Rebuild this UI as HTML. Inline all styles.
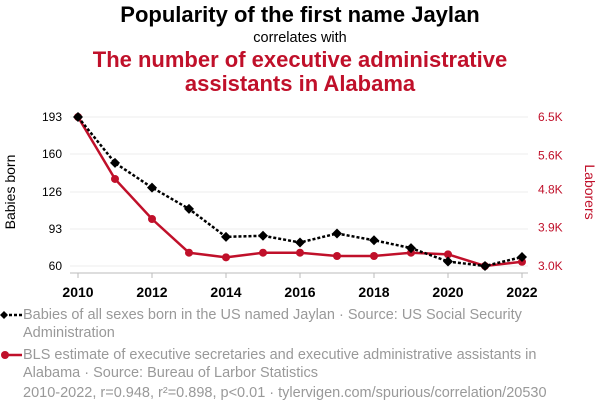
<!DOCTYPE html>
<html><head><meta charset="utf-8"><style>
body{margin:0;width:600px;height:414px;background:#fff;font-family:"Liberation Sans",sans-serif;overflow:hidden;position:relative}
.t{position:absolute;left:0;width:600px;text-align:center}
.leg{position:absolute;left:23px;color:#999;font-size:14.5px;line-height:18px;width:535px}
</style></head><body>
<div class="t" style="top:2px;font-size:22px;font-weight:bold;color:#000">Popularity of the first name Jaylan</div>
<div class="t" style="top:30px;font-size:14.5px;color:#000">correlates with</div>
<div class="t" style="top:48px;font-size:22px;font-weight:bold;color:#c0102a;line-height:24px">The number of executive administrative<br>assistants in Alabama</div>
<svg id="c" width="600" height="300" style="position:absolute;left:0;top:0"></svg>
<svg width="24" height="100" style="position:absolute;left:0;top:305px">
<line x1="4" y1="10" x2="22" y2="10" stroke="#000" stroke-width="2.5" stroke-dasharray="3,2"/><path d="M4 6 L8 10 L4 14 L0 10Z" fill="#000"/>
<line x1="4" y1="50" x2="22" y2="50" stroke="#c0102a" stroke-width="2.5"/><circle cx="5" cy="50" r="4" fill="#c0102a"/>
</svg>
<div class="leg" style="top:306px">Babies of all sexes born in the US named Jaylan · Source: US Social Security Administration</div>
<div class="leg" style="top:346px">BLS estimate of executive secretaries and executive administrative assistants in Alabama · Source: Bureau of Larbor Statistics</div>
<div class="leg" style="top:384px">2010-2022, r=0.948, r²=0.898, p&lt;0.01 · tylervigen.com/spurious/correlation/20530</div>
<script>
const years=[2010,2011,2012,2013,2014,2015,2016,2017,2018,2019,2020,2021,2022];
const babies=[193,152,130,111,86,87,81,89,83,76,64,60,68];
const laborers=[6500,5044,4104,3312,3204,3312,3312,3235,3235,3312,3274,3000,3100];
const leftTicks=[60,93,126,160,193];
const rightTicks=[3000,3900,4800,5600,6500];
const rightLabels=["3.0K","3.9K","4.8K","5.6K","6.5K"];
const xTicks=[2010,2012,2014,2016,2018,2020,2022];
const NS="http://www.w3.org/2000/svg",svg=document.getElementById('c');
const x=v=>78+(v-2010)/12*444;
const yL=v=>266-(v-60)/(193-60)*149;
const yR=v=>266-(v-3000)/(6500-3000)*149;
function mk(t,a,p){const e=document.createElementNS(NS,t);for(const k in a)e.setAttribute(k,a[k]);(p||svg).appendChild(e);return e;}
leftTicks.forEach((v,i)=>{
 const g=mk('line',{x1:70,x2:528,y1:yL(v),y2:yL(v),stroke:'#eee','stroke-width':1});
 
 
 const t=mk('text',{x:62,y:yL(v)+4,'text-anchor':'end','font-size':12,fill:'#000'});t.textContent=v;
 
 
});
rightTicks.forEach((v,i)=>{
 const t=mk('text',{x:538,y:yR(v)+4,'font-size':12,fill:'#c0102a'});t.textContent=rightLabels[i];
 
 
});
mk('line',{x1:70,x2:528,y1:273,y2:273,stroke:'#bbb'});
xTicks.forEach(v=>{
 mk('line',{x1:x(v),x2:x(v),y1:273,y2:278,stroke:'#bbb'});
 const t=mk('text',{x:x(v),y:297,'text-anchor':'middle','font-size':14,'font-weight':'bold',fill:'#000'});t.textContent=v;
 
 
});
const yt=mk('text',{x:0,y:0,transform:'translate(15,192) rotate(-90)','text-anchor':'middle','font-size':14,fill:'#000'});yt.textContent='Babies born';


const rt=mk('text',{x:0,y:0,transform:'translate(585,192) rotate(90)','text-anchor':'middle','font-size':14,fill:'#c0102a'});rt.textContent='Laborers';


const rl=mk('polyline',{points:years.map((y,i)=>x(y)+','+yR(laborers[i])).join(' '),fill:'none',stroke:'#c0102a','stroke-width':2.5});


years.forEach((y,i)=>{const c=mk('circle',{cx:x(y),cy:yR(laborers[i]),r:4,fill:'#c0102a'});
 
 });
const bl=mk('polyline',{points:years.map((y,i)=>x(y)+','+yL(babies[i])).join(' '),fill:'none',stroke:'#000','stroke-width':2.5,'stroke-dasharray':'3,2'});


years.forEach((y,i)=>{const cx=x(y),cy=yL(babies[i]);const d=mk('path',{d:`M${cx} ${cy-5}L${cx+5} ${cy}L${cx} ${cy+5}L${cx-5} ${cy}Z`,fill:'#000'});
 
 });
</script>
</body></html>
